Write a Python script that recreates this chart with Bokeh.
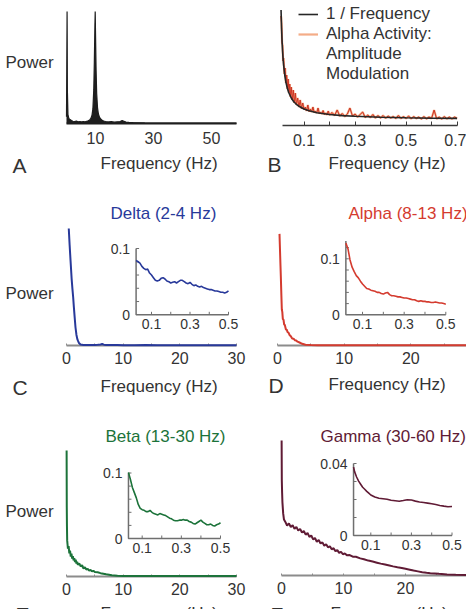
import math
from bokeh.plotting import figure
from bokeh.layouts import column, row
from bokeh.models import Range1d, FixedTicker, Label, Legend, LegendItem
from bokeh.embed import file_html
from bokeh.resources import INLINE
from bokeh.core.properties import value

FONT = "Liberation Sans"
INK = "#333333"
AXIS_GREY = "#8c8c8c"
INSET_GREY = "#6f6f6f"

# ---------------- data ----------------
# A: raw EEG power spectrum (peak normalised to 1)
A_freq = [0.0, 0.1, 0.2, 0.3, 0.5, 0.8, 1.2, 1.7, 2.2, 2.8,
          3.4, 4.0, 4.6, 5.2, 5.8, 6.4, 7.0, 7.5, 8.0, 8.4,
          8.8, 9.1, 9.4, 9.6, 9.8, 9.9, 10.0, 10.2, 10.4, 10.7,
          11.0, 11.4, 11.8, 12.3, 12.8, 13.5, 14.5, 15.5, 16.5, 17.5,
          18.5, 19.2, 19.8, 20.5, 21.5, 23.0, 25.0, 27.0, 30.0, 33.0,
          36.0, 39.0, 42.0, 45.0, 48.0, 51.0, 54.0, 57.0, 58.6]
A_power = [0.06, 0.5, 1.0, 0.3, 0.08, 0.045, 0.035, 0.026, 0.02, 0.018,
           0.021, 0.015, 0.018, 0.014, 0.017, 0.014, 0.02, 0.024, 0.032, 0.045,
           0.075, 0.13, 0.3, 0.55, 0.88, 1.0, 0.82, 0.48, 0.27, 0.14,
           0.085, 0.055, 0.04, 0.028, 0.022, 0.018, 0.014, 0.016, 0.012, 0.015,
           0.018, 0.026, 0.02, 0.013, 0.01, 0.008, 0.006, 0.005, 0.004, 0.004,
           0.003, 0.004, 0.003, 0.003, 0.003, 0.004, 0.003, 0.003, 0.003]
A_ticks = [10, 30, 50]

# B: 1/f reference and alpha amplitude-modulation spectrum
B_inv_freq = [0.010, 0.012, 0.014, 0.016, 0.018, 0.020, 0.025, 0.030, 0.035, 0.040,
              0.050, 0.060, 0.070, 0.080, 0.100, 0.120, 0.150, 0.200, 0.250, 0.300,
              0.400, 0.500, 0.600, 0.700]
B_inv_power = [110.0, 91.7, 78.6, 68.8, 61.1, 55.0, 44.0, 36.7, 31.4, 27.5,
               22.0, 18.3, 15.7, 13.8, 11.0, 9.2, 7.3, 5.5, 4.4, 3.7,
               2.8, 2.2, 1.8, 1.6]
B_alpha_freq = [0.010, 0.012, 0.014, 0.016, 0.018, 0.020, 0.023, 0.026, 0.029, 0.032,
                0.035, 0.038, 0.041, 0.044, 0.047, 0.050, 0.054, 0.058, 0.062, 0.066,
                0.070, 0.075, 0.080, 0.085, 0.090, 0.095,
                0.100, 0.105, 0.110, 0.115, 0.120, 0.125, 0.130, 0.135, 0.140, 0.145,
                0.150, 0.155, 0.160, 0.165, 0.170, 0.175, 0.180, 0.185, 0.190, 0.195,
                0.20, 0.21, 0.22, 0.23, 0.24, 0.25, 0.26, 0.27, 0.28, 0.29,
                0.30, 0.31, 0.32, 0.33, 0.34, 0.35, 0.36, 0.37, 0.38, 0.39,
                0.40, 0.41, 0.42, 0.43, 0.44, 0.45, 0.46, 0.47, 0.48, 0.49,
                0.50, 0.51, 0.52, 0.53, 0.54, 0.55, 0.56, 0.57, 0.58, 0.59,
                0.60, 0.61, 0.62, 0.63, 0.64, 0.65, 0.66, 0.67, 0.68, 0.69,
                0.70]
B_alpha_power = [104, 97, 77, 75, 59, 62, 46, 52, 37, 45,
                 31, 41, 27, 36, 23, 33, 20, 30, 17, 27,
                 15, 22, 13, 20, 11.5, 17,
                 10.5, 13, 9, 15, 8.5, 11, 8, 13, 7.5, 9,
                 7, 12, 6.5, 8, 6, 9.5, 5.5, 7, 5.2, 9,
                 5, 7.5, 4.5, 10, 4, 6.5, 3.5, 6, 12, 4,
                 6, 3, 5.5, 8, 2.5, 5, 2.5, 5.5, 2, 4.5,
                 2, 4.5, 1.8, 4, 2, 3.5, 1.5, 4.5, 1.5, 3.5,
                 1.5, 4, 1.2, 3.5, 1.5, 3, 1, 3.5, 1.2, 3,
                 1.5, 10, 1.2, 3, 1, 3.5, 1.2, 3, 1, 3,
                 1.5]
B_ticks = [0.1, 0.3, 0.5, 0.7]
B_minor = [0.2, 0.4, 0.6]

band_ticks = [0, 10, 20, 30]
band_minor = [5, 15, 25]
inset_xticks = [0.1, 0.3, 0.5]
inset_xminor = [0.2, 0.4]

# C: delta band
C_freq = [0.4, 0.55, 0.71, 0.9, 1.05, 1.18, 1.3, 1.45, 1.59, 1.75,
          1.9, 2.0, 2.2, 2.47, 3.0, 3.5, 4.0, 4.5, 5.0, 5.5,
          6.0, 6.3, 6.6, 7.0, 8.0, 9.0, 10.0, 12.0, 14.0, 16.0,
          18.0, 20.0, 22.0, 24.0, 26.0, 28.0, 30.0]
C_power = [0.975, 0.84, 0.71, 0.56, 0.47, 0.40, 0.32, 0.23, 0.15, 0.09,
           0.055, 0.042, 0.02, 0.008, 0.005, 0.004, 0.005, 0.004, 0.005, 0.006,
           0.008, 0.012, 0.007, 0.005, 0.004, 0.004, 0.003, 0.003, 0.004, 0.003,
           0.003, 0.003, 0.003, 0.003, 0.003, 0.003, 0.003]
C_in_freq = [0.02, 0.03, 0.04, 0.05, 0.06, 0.07, 0.08, 0.09, 0.10, 0.11,
             0.12, 0.13, 0.14, 0.15, 0.16, 0.17, 0.18, 0.19, 0.20, 0.21,
             0.22, 0.23, 0.24, 0.25, 0.26, 0.27, 0.28, 0.29, 0.30, 0.31,
             0.32, 0.33, 0.34, 0.35, 0.36, 0.37, 0.38, 0.39, 0.40, 0.41,
             0.42, 0.43, 0.44, 0.45, 0.46, 0.47, 0.48, 0.49, 0.50]
C_in_power = [0.082, 0.080, 0.078, 0.073, 0.070, 0.068, 0.069, 0.063, 0.060, 0.056,
              0.052, 0.051, 0.052, 0.055, 0.056, 0.054, 0.051, 0.050, 0.048, 0.049,
              0.050, 0.048, 0.050, 0.052, 0.052, 0.050, 0.048, 0.047, 0.049, 0.046,
              0.044, 0.045, 0.043, 0.042, 0.043, 0.041, 0.040, 0.039, 0.038, 0.038,
              0.037, 0.036, 0.036, 0.035, 0.034, 0.034, 0.033, 0.034, 0.036]
C_in_yticks = [0, 0.1]
C_in_yminor = [0.02, 0.04, 0.06, 0.08]
C_in_ytop = 0.1

# D: alpha band
D_freq = [0.3, 0.35, 0.4, 0.45, 0.5, 0.58, 0.65, 0.72, 0.8, 0.9,
          1.0, 1.1, 1.25, 1.4, 1.5, 1.65, 1.8, 2.0, 2.2, 2.4,
          2.6, 2.8, 3.0, 3.3, 3.7, 4.2, 5.0, 6.0, 8.0, 10.0,
          13.0, 16.0, 19.0, 22.0, 25.0, 28.4]
D_power = [0.93, 0.84, 0.75, 0.66, 0.575, 0.42, 0.30, 0.28, 0.22, 0.215,
           0.175, 0.17, 0.135, 0.13, 0.112, 0.108, 0.088, 0.078, 0.059, 0.057,
           0.044, 0.041, 0.032, 0.025, 0.014, 0.006, 0.004, 0.003, 0.003, 0.003,
           0.003, 0.003, 0.003, 0.003, 0.003, 0.003]
D_in_freq = C_in_freq
D_in_power = [0.128, 0.118, 0.098, 0.085, 0.077, 0.070, 0.066, 0.060, 0.055, 0.051,
              0.047, 0.046, 0.044, 0.043, 0.042, 0.040, 0.040, 0.038, 0.037, 0.039,
              0.040, 0.036, 0.034, 0.034, 0.033, 0.032, 0.032, 0.031, 0.030, 0.030,
              0.029, 0.028, 0.027, 0.027, 0.025, 0.024, 0.025, 0.024, 0.024, 0.023,
              0.023, 0.022, 0.022, 0.023, 0.022, 0.021, 0.021, 0.020, 0.019]
D_in_yticks = [0, 0.1]
D_in_yminor = [0.02, 0.04, 0.06, 0.08, 0.12]
D_in_ytop = 0.132

# E: beta band
E_freq = [0.02, 0.05, 0.08, 0.12, 0.18, 0.25, 0.375, 0.5, 0.625, 0.75,
          0.875, 1.0, 1.125, 1.25, 1.375, 1.5, 1.625, 1.75, 1.875, 2.0,
          2.25, 2.5, 2.75, 3.0, 3.25, 3.5, 3.75, 4.0, 4.25, 4.5,
          4.75, 5.0, 5.5, 6.0, 6.5, 7.0, 7.5, 8.0, 8.5, 9.0,
          10.0, 12.0, 15.0, 18.0, 21.0, 24.0, 27.0, 30.0]
E_power = [0.977, 0.535, 0.39, 0.28, 0.25, 0.215, 0.235, 0.18, 0.2, 0.155,
           0.178, 0.138, 0.158, 0.125, 0.142, 0.112, 0.13, 0.1, 0.115, 0.09,
           0.102, 0.078, 0.088, 0.062, 0.072, 0.054, 0.06, 0.046, 0.051, 0.04,
           0.044, 0.034, 0.033, 0.026, 0.022, 0.017, 0.013, 0.009, 0.007, 0.005,
           0.004, 0.003, 0.003, 0.003, 0.003, 0.003, 0.003, 0.003]
E_in_freq = [0.03, 0.04, 0.05, 0.06, 0.07, 0.08, 0.09, 0.10, 0.11, 0.12,
             0.13, 0.14, 0.15, 0.16, 0.17, 0.18, 0.19, 0.20, 0.21, 0.22,
             0.23, 0.24, 0.25, 0.26, 0.27, 0.28, 0.29, 0.30, 0.31, 0.32,
             0.33, 0.34, 0.35, 0.36, 0.37, 0.38, 0.39, 0.40, 0.41, 0.42,
             0.43, 0.44, 0.45, 0.46, 0.47, 0.48, 0.49, 0.50]
E_in_power = [0.101, 0.090, 0.078, 0.070, 0.062, 0.052, 0.046, 0.044, 0.043, 0.041,
              0.041, 0.043, 0.040, 0.038, 0.037, 0.036, 0.038, 0.037, 0.036, 0.035,
              0.033, 0.031, 0.030, 0.028, 0.027, 0.027, 0.028, 0.028, 0.029, 0.028,
              0.028, 0.026, 0.025, 0.023, 0.022, 0.024, 0.026, 0.028, 0.025, 0.023,
              0.021, 0.021, 0.022, 0.020, 0.019, 0.021, 0.022, 0.024]
E_in_yticks = [0, 0.1]
E_in_yminor = [0.02, 0.04, 0.06, 0.08]
E_in_ytop = 0.1

# F: gamma band
F_freq = [0.02, 0.05, 0.1, 0.15, 0.27, 0.4, 0.6, 0.9, 1.2, 1.5,
          1.8, 2.1, 2.4, 2.7, 3.0, 3.3, 3.6, 3.9, 4.2, 4.5,
          4.8, 5.1, 5.4, 5.7, 6.0, 6.3, 6.6, 6.9, 7.2, 7.5,
          7.8, 8.1, 8.4, 8.7, 9.0, 9.3, 9.6, 9.9, 10.2, 10.6,
          11.0, 11.5, 12.0, 12.7, 13.3, 14.0, 14.7, 15.4, 16.0, 16.7,
          17.4, 18.0, 18.7, 19.4, 20.0, 20.7, 21.3, 22.0, 22.7, 23.4,
          24.0, 25.4, 26.7, 28.1, 29.8]
F_power = [0.978, 0.69, 0.6, 0.53, 0.45, 0.405, 0.39, 0.362, 0.378, 0.352,
           0.364, 0.338, 0.352, 0.325, 0.338, 0.312, 0.322, 0.296, 0.308, 0.28,
           0.29, 0.262, 0.272, 0.244, 0.258, 0.232, 0.24, 0.216, 0.226, 0.204,
           0.212, 0.19, 0.198, 0.176, 0.184, 0.164, 0.172, 0.154, 0.16, 0.146,
           0.148, 0.136, 0.136, 0.124, 0.118, 0.108, 0.101, 0.093, 0.086, 0.079,
           0.072, 0.066, 0.06, 0.055, 0.049, 0.042, 0.036, 0.03, 0.024, 0.02,
           0.017, 0.012, 0.008, 0.005, 0.004]
F_in_freq = [0.015, 0.02, 0.03, 0.04, 0.05, 0.06, 0.07, 0.08, 0.09, 0.10,
             0.12, 0.14, 0.16, 0.18, 0.20, 0.22, 0.24, 0.26, 0.28, 0.30,
             0.32, 0.34, 0.36, 0.38, 0.40, 0.42, 0.44, 0.46, 0.48, 0.50]
F_in_power = [0.0380, 0.0355, 0.0325, 0.0302, 0.0285, 0.0268, 0.0257, 0.0245, 0.0235, 0.0225,
              0.0214, 0.0207, 0.0204, 0.0201, 0.0196, 0.0193, 0.0190, 0.0194, 0.0199, 0.0197,
              0.0191, 0.0186, 0.0183, 0.0180, 0.0176, 0.0172, 0.0167, 0.0163, 0.0160, 0.0161]
F_in_yticks = [0, 0.04]
F_in_yminor = [0.01, 0.02, 0.03]
F_in_ytop = 0.04

DELTA = "#28399a"
ALPHA = "#d43b2f"
BETA = "#1c733a"
GAMMA = "#601b35"


class Panel:
    """A figure whose frame fills its whole canvas; the data box
    (x 0..x_end, y y0..y1) is pinned to a page-pixel rectangle."""

    def __init__(self, canvas, box, x_end, y_span):
        left, top, width, height = canvas
        bx0, bt, bx1, bb = box
        y0, y1 = y_span
        self.kx = x_end / (bx1 - bx0)
        self.ky = (y1 - y0) / (bb - bt)
        self.bx0, self.bb, self.y0 = bx0, bb, y0
        self.left, self.top, self.width, self.height = canvas
        p = figure(width=width, height=height,
                   x_range=Range1d(self.dx(left), self.dx(left + width)),
                   y_range=Range1d(self.dy(top + height), self.dy(top)),
                   min_border=0, min_border_left=0, min_border_right=0,
                   min_border_top=0, min_border_bottom=0,
                   toolbar_location=None, output_backend="svg",
                   y_axis_location=None)
        p.grid.visible = False
        p.outline_line_color = None
        p.background_fill_color = "white"
        p.border_fill_color = "white"
        self.p = p
        self.x_end = x_end

    def dx(self, px):
        return (px - self.bx0) * self.kx

    def dy(self, py):
        return self.y0 + (self.bb - py) * self.ky

    def text(self, s, px, py, size, color=INK):
        self.p.add_layout(Label(x=self.dx(px), y=self.dy(py), text=s, text_font=FONT,
                                text_font_size=f"{size}px", text_color=color,
                                text_align="left", text_baseline="alphabetic"))

    def axis(self, ticks, minor, color, width, tick_in, standoff, bounds=None):
        ax = self.p.xaxis[0]
        ax.fixed_location = self.y0
        ax.bounds = bounds if bounds is not None else (0, self.x_end)
        ax.ticker = FixedTicker(ticks=ticks, minor_ticks=minor)
        ax.axis_line_color = color
        ax.axis_line_width = width
        ax.major_tick_out = 0
        ax.minor_tick_out = 0
        ax.major_tick_in = tick_in
        ax.minor_tick_in = tick_in
        ax.major_tick_line_color = color if tick_in else None
        ax.minor_tick_line_color = color if tick_in else None
        ax.major_label_text_font = FONT
        ax.major_label_text_font_size = "16px"
        ax.major_label_text_color = INK
        ax.major_label_standoff = standoff

    def inset(self, freq, power, color, xmap, ymap, ytop, yticks, yminor):
        # xmap / ymap: two (page pixel, value) anchors for the inset scales
        (xa, va), (xb, vb) = xmap
        kx = (vb - va) / (xb - xa)
        (ya, wa), (yb, wb) = ymap
        ky = (wb - wa) / (yb - ya)
        p = self.p
        fl, fr = self.left, self.left + self.width
        ft, fb = self.top, self.top + self.height
        p.extra_x_ranges = {"inset": Range1d(va + (fl - xa) * kx, va + (fr - xa) * kx)}
        p.extra_y_ranges = {"inset": Range1d(wa + (fb - ya) * ky, wa + (ft - ya) * ky)}
        kw = dict(x_range_name="inset", y_range_name="inset")
        x_lo, x_hi = freq[0], inset_xticks[-1]
        p.line([x_lo, x_lo, x_hi], [ytop, 0, 0], line_color=INSET_GREY, line_width=1.5, **kw)
        p.ray(x=inset_xticks + inset_xminor, y=0, length=3, length_units="screen",
              angle=math.pi / 2, line_color=INSET_GREY, line_width=1, **kw)
        p.ray(x=x_lo, y=yminor + yticks[1:], length=3, length_units="screen",
              angle=0, line_color=INSET_GREY, line_width=1, **kw)
        p.line(freq, power, line_color=color, line_width=1.6, **kw)
        p.text(x=inset_xticks, y=[0] * len(inset_xticks), text=[str(t) for t in inset_xticks],
               y_offset=4, text_align="center", text_baseline="top",
               text_font=value(FONT), text_font_size="14px", text_color=INK, **kw)
        p.text(x=[x_lo] * len(yticks), y=yticks, text=[str(t) for t in yticks],
               x_offset=-6, text_align="right", text_baseline="middle",
               text_font=value(FONT), text_font_size="14px", text_color=INK, **kw)


# ---------------- A ----------------
A = Panel((0, 0, 246, 190), (66, 11, 236, 123), 58.62, (0, 1.0))
A.p.varea(x=A_freq, y1=0, y2=A_power, fill_color="#1e1e1e")
A.p.line(A_freq, A_power, line_color="#1e1e1e", line_width=1.2)
A.axis(A_ticks, [], "#1e1e1e", 2, 0, 8)
A.text("Power", 5, 62, 17)
A.text("A", 12, 165, 21)
A.text("Frequency (Hz)", 100, 163, 17)

# ---------------- B ----------------
B = Panel((246, 0, 220, 190), (278, 8, 466, 125), 0.737, (-5.5, 111.5))
halo = B.p.line(B_alpha_freq, B_alpha_power, line_color="#f0905f", line_width=2.2, line_alpha=0.75)
B.p.line(B_alpha_freq, B_alpha_power, line_color="#cc3424", line_width=1.0)
inv_line = B.p.line(B_inv_freq, B_inv_power, line_color="#262626", line_width=1.6)
no_glyph = B.p.line(x=[], y=[])  # label-only legend entry (continuation lines)
B.axis(B_ticks, B_minor, "#3a3a3a", 1.5, 4, 8, bounds=(0.015, 0.7))
legend = Legend(items=[LegendItem(label="1 / Frequency", renderers=[inv_line]),
                       LegendItem(label="Alpha Activity:", renderers=[halo]),
                       LegendItem(label="Amplitude\nModulation", renderers=[no_glyph])],
                location=(52, 106), glyph_width=20, glyph_height=14, label_height=14,
                label_standoff=8, spacing=-1, padding=0, margin=0,
                label_text_font=FONT, label_text_font_size="17px", label_text_color=INK,
                label_text_line_height=1.06,
                border_line_color=None, background_fill_alpha=0)
B.p.add_layout(legend)
B.text("B", 267, 164, 21)
B.text("Frequency (Hz)", 328, 163, 17)

# ---------------- C ----------------
C = Panel((0, 190, 246, 210), (66, 225, 236, 345), 30, (0, 1.0))
C.p.line(C_freq, C_power, line_color=DELTA, line_width=2, level="overlay")
C.axis(band_ticks, band_minor, AXIS_GREY, 2, 2, 6)
C.inset(C_in_freq, C_in_power, DELTA, ((131.75, 0.0), (228.0, 0.5)),
        ((314.3, 0.0), (248.0, 0.1)), C_in_ytop, C_in_yticks, C_in_yminor)
C.text("Delta (2-4 Hz)", 110, 213, 17, DELTA)
C.text("Power", 5, 293, 17)
C.text("C", 12, 387, 21)
C.text("Frequency (Hz)", 100, 386, 17)

# ---------------- D ----------------
D = Panel((246, 190, 220, 210), (277, 225, 466, 345), 28.34, (0, 1.0))
D.p.line(D_freq, D_power, line_color=ALPHA, line_width=2, level="overlay")
D.axis(band_ticks, band_minor, AXIS_GREY, 2, 2, 6)
D.inset(D_in_freq, D_in_power, ALPHA, ((341.2, 0.0), (445.3, 0.5)),
        ((314.3, 0.0), (258.3, 0.1)), D_in_ytop, D_in_yticks, D_in_yminor)
D.text("Alpha (8-13 Hz)", 348, 213, 17, ALPHA)
D.text("D", 268, 385, 21)
D.text("Frequency (Hz)", 328, 384, 17)

# ---------------- E ----------------
E = Panel((0, 400, 246, 209), (66, 447, 236, 576), 30, (0, 1.0))
E.p.line(E_freq, E_power, line_color=BETA, line_width=2, level="overlay")
E.axis(band_ticks, band_minor, AXIS_GREY, 2, 2, 6)
E.inset(E_in_freq, E_in_power, BETA, ((122.1, 0.0), (220.0, 0.5)),
        ((538.0, 0.0), (472.5, 0.1)), E_in_ytop, E_in_yticks, E_in_yminor)
E.text("Beta (13-30 Hz)", 105, 436, 17, BETA)
E.text("Power", 5, 511, 17)
E.text("E", 15, 614, 21)
E.text("Frequency (Hz)", 100, 613, 17)

# ---------------- F ----------------
F = Panel((246, 400, 220, 209), (281, 437, 466, 575), 29.84, (0, 1.0))
F.p.line(F_freq, F_power, line_color=GAMMA, line_width=2, level="overlay")
F.axis(band_ticks, band_minor, AXIS_GREY, 2, 2, 6)
F.inset(F_in_freq, F_in_power, GAMMA, ((350.0, 0.0), (451.5, 0.5)),
        ((535.0, 0.0), (463.0, 0.04)), F_in_ytop, F_in_yticks, F_in_yminor)
F.text("Gamma (30-60 Hz)", 320, 436, 17, GAMMA)
F.text("F", 270, 614, 21)
F.text("Frequency (Hz)", 330, 613, 17)

layout = column(row(A.p, B.p), row(C.p, D.p), row(E.p, F.p))
open("out.html", "w").write(file_html(layout, INLINE))
